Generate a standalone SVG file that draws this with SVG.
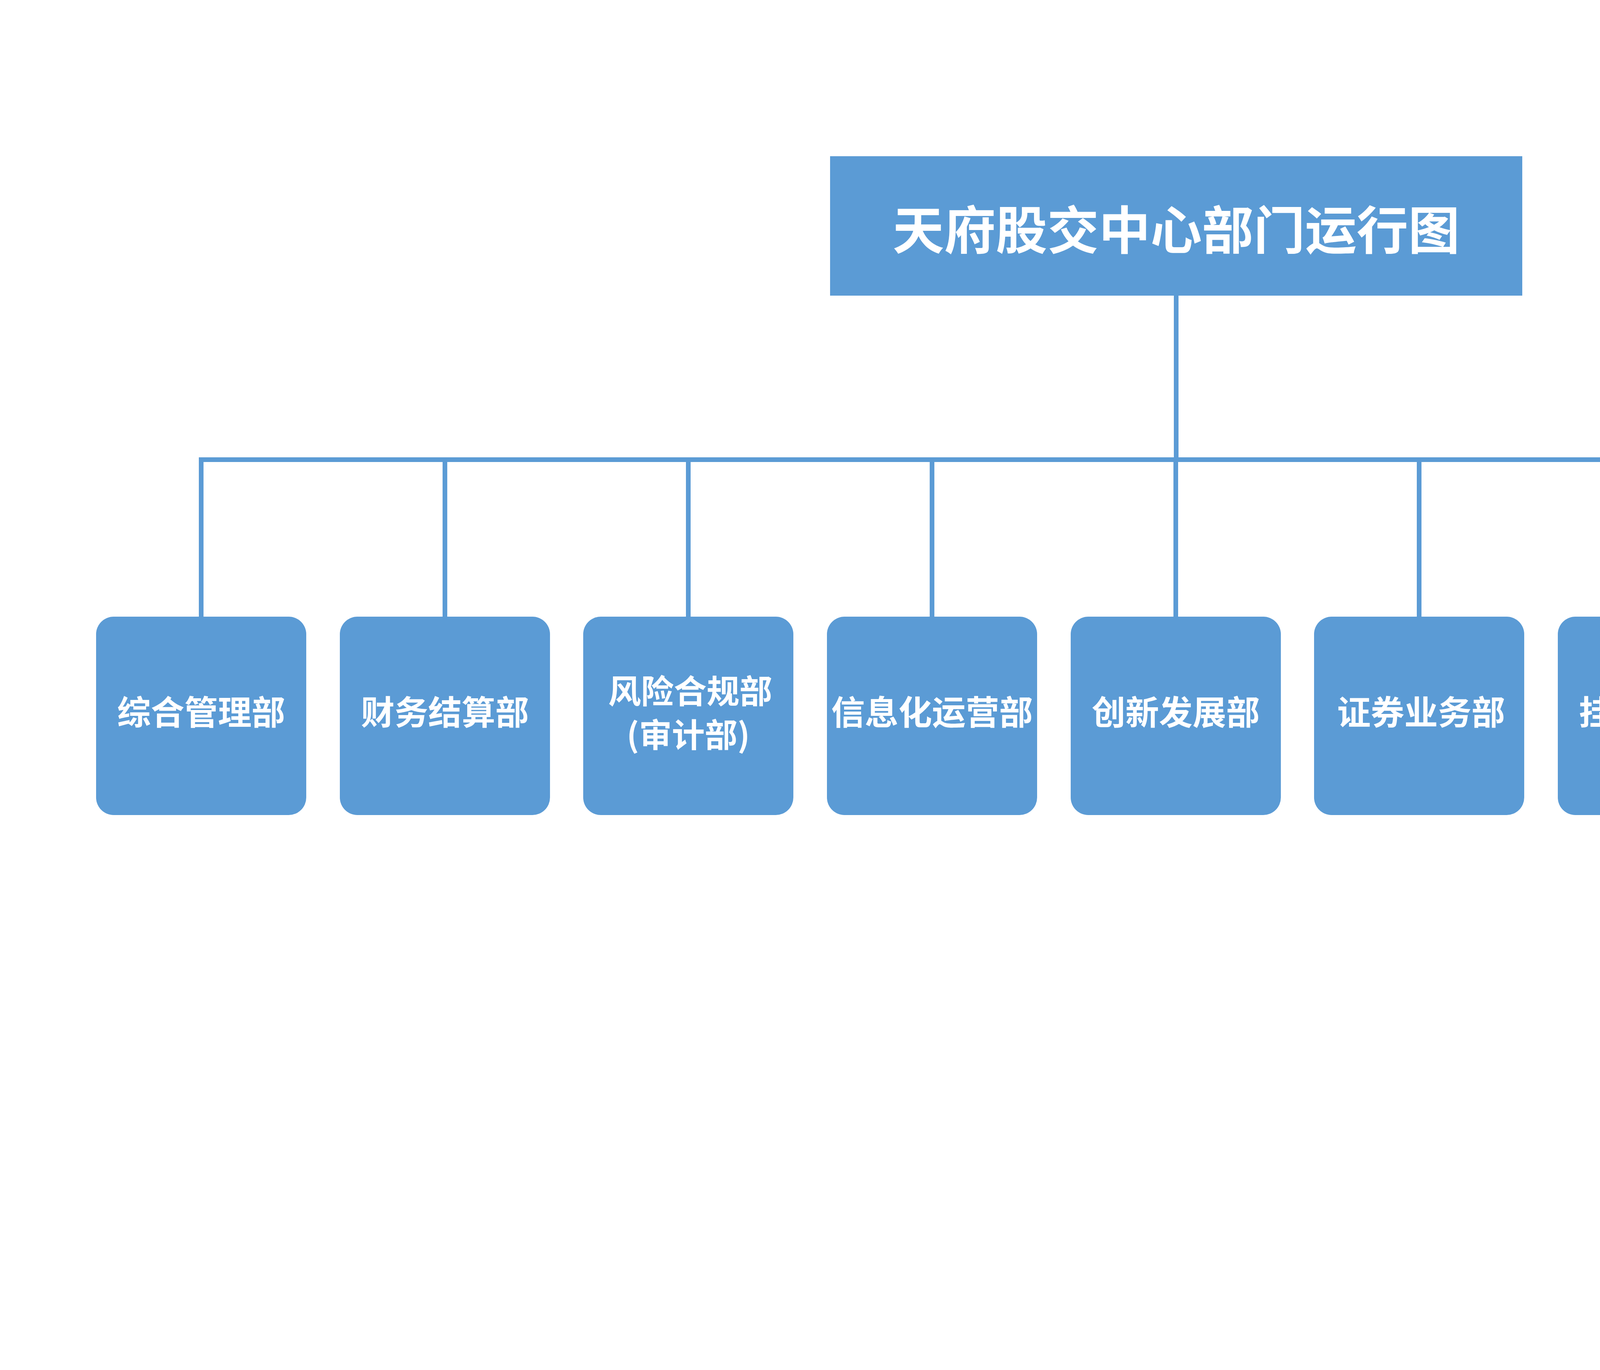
<svg xmlns="http://www.w3.org/2000/svg" width="6023" height="3508" viewBox="0 0 6023 3508">
<style>
.n{fill:#5B9BD5}
.t{fill:#fff;font-family:"Noto Sans CJK SC",sans-serif;font-weight:bold;text-anchor:middle;dominant-baseline:central}
.c{stroke:#5B9BD5;stroke-width:12;fill:none}
</style>
<rect width="6023" height="3508" fill="#fff"/>
<g id="connectors" class="c">
<line x1="3011" y1="757" x2="3011" y2="1177"/>
<line x1="515" y1="1177" x2="5504" y2="1177"/>
<line x1="515" y1="1171" x2="515" y2="1580"/>
<line x1="1139" y1="1177" x2="1139" y2="1580"/>
<line x1="1762" y1="1177" x2="1762" y2="1580"/>
<line x1="2386" y1="1177" x2="2386" y2="1580"/>
<line x1="3010" y1="1177" x2="3010" y2="1580"/>
<line x1="3633" y1="1177" x2="3633" y2="1580"/>
<line x1="4257" y1="1177" x2="4257" y2="1580"/>
<line x1="4880" y1="1177" x2="4880" y2="1580"/>
<line x1="5504" y1="1171" x2="5504" y2="1580"/>
</g>
<g id="title"><rect class="n" x="2125" y="400" width="1772" height="357"/><text class="t" x="3011" y="580" font-size="132">天府股交中心部门运行图</text></g>
<g id="n1"><rect class="n" x="246" y="1579" width="538" height="508" rx="45"/><text class="t" x="515" y="1818" font-size="86">综合管理部</text></g>
<g id="n2"><rect class="n" x="870" y="1579" width="538" height="508" rx="45"/><text class="t" x="1139" y="1818" font-size="86">财务结算部</text></g>
<g id="n3"><rect class="n" x="1493" y="1579" width="538" height="508" rx="45"/><text class="t" x="1767" y="1764" font-size="84">风险合规部</text><text class="t" x="1762" y="1876" font-size="84">(审计部)</text></g>
<g id="n4"><rect class="n" x="2117" y="1579" width="538" height="508" rx="45"/><text class="t" x="2386" y="1818" font-size="86">信息化运营部</text></g>
<g id="n5"><rect class="n" x="2741" y="1579" width="538" height="508" rx="45"/><text class="t" x="3010" y="1818" font-size="86">创新发展部</text></g>
<g id="n6"><rect class="n" x="3364" y="1579" width="538" height="508" rx="45"/><text class="t" x="3638" y="1818" font-size="86">证券业务部</text></g>
<g id="n7"><rect class="n" x="3988" y="1579" width="538" height="508" rx="45"/><text class="t" x="4257" y="1818" font-size="86">挂牌上市部</text></g>
<g id="n8"><rect class="n" x="4611" y="1579" width="538" height="508" rx="45"/><text class="t" x="4875" y="1818" font-size="86">市场服务部</text></g>
<g id="n9"><rect class="n" x="5235" y="1579" width="538" height="508" rx="45"/><text class="t" x="5509" y="1818" font-size="86">金融服务部</text></g>
</svg>
